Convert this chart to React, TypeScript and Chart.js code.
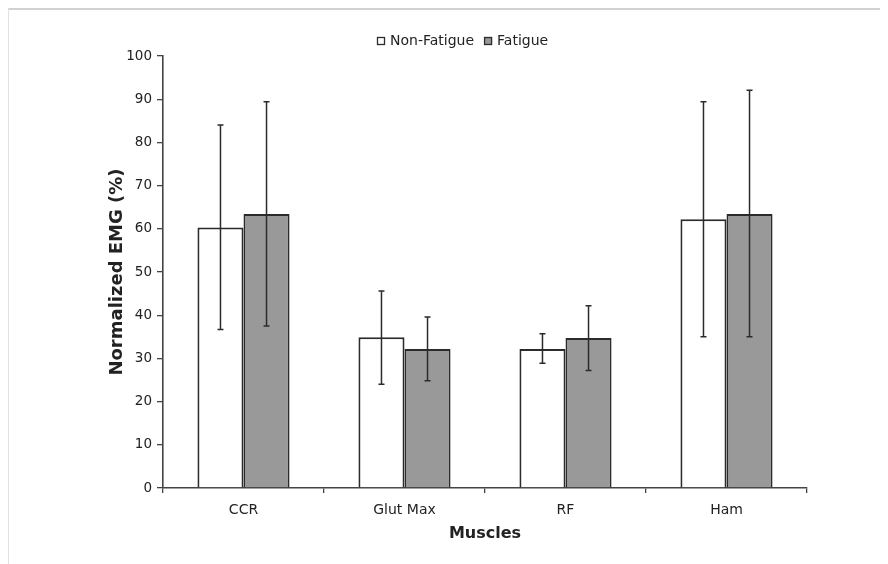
import React, { useEffect, useRef } from "react";
import { Chart, registerables } from "chart.js";

Chart.register(...registerables);

const categories = ["CCR", "Glut Max", "RF", "Ham"];
const seriesNames = ["Non-Fatigue", "Fatigue"];
const nonFatigue = [60.3, 34.9, 32.2, 62.2];
const fatigue = [63.4, 32.2, 34.7, 63.4];
const nonFatigueLow = [36.7, 24.0, 28.9, 35.0];
const nonFatigueHigh = [84.0, 45.6, 35.7, 89.4];
const fatigueLow = [37.5, 24.8, 27.2, 35.0];
const fatigueHigh = [89.4, 39.6, 42.2, 92.1];
const yMin = 0;
const yMax = 100;
const yStep = 10;

const lows = [nonFatigueLow, fatigueLow];
const highs = [nonFatigueHigh, fatigueHigh];

const FONT = '"DejaVu Sans", sans-serif';
const INK = "#2b2b2b";

const errorBarPlugin = {
  id: "errorBars",
  afterDatasetsDraw(chart: any) {
    const ctx = chart.ctx;
    const yScale = chart.scales.y;
    ctx.save();
    ctx.strokeStyle = INK;
    ctx.lineWidth = 1.5;
    chart.data.datasets.forEach((_ds: any, di: number) => {
      const meta = chart.getDatasetMeta(di);
      meta.data.forEach((bar: any, j: number) => {
        const x = bar.x;
        const yl = yScale.getPixelForValue(lows[di][j]);
        const yh = yScale.getPixelForValue(highs[di][j]);
        ctx.beginPath();
        ctx.moveTo(x, yl);
        ctx.lineTo(x, yh);
        ctx.moveTo(x - 3, yl);
        ctx.lineTo(x + 3, yl);
        ctx.moveTo(x - 3, yh);
        ctx.lineTo(x + 3, yh);
        ctx.stroke();
      });
    });
    ctx.restore();
  },
};

const legendPlugin = {
  id: "customLegend",
  afterDraw(chart: any) {
    const ctx = chart.ctx;
    ctx.save();
    ctx.font = `14px ${FONT}`;
    ctx.textBaseline = "middle";
    let x = 368;
    const y = 31;
    chart.data.datasets.forEach((ds: any) => {
      ctx.fillStyle = ds.backgroundColor;
      ctx.fillRect(x, y - 4, 8, 8);
      ctx.strokeStyle = INK;
      ctx.lineWidth = 1.3;
      ctx.strokeRect(x + 0.5, y - 3.5, 7, 7);
      x += 13;
      ctx.fillStyle = "#222";
      ctx.fillText(ds.label, x, y);
      x += ctx.measureText(ds.label).width + 10;
    });
    ctx.restore();
  },
};

export default function App() {
  const ref = useRef<HTMLCanvasElement>(null);
  useEffect(() => {
    if (!ref.current) return;
    const chart = new Chart(ref.current, {
      type: "bar",
      data: {
        labels: categories,
        datasets: [
          {
            label: seriesNames[0],
            data: nonFatigue,
            backgroundColor: "#ffffff",
            borderColor: INK,
            borderWidth: 2,
            categoryPercentage: 0.572,
            barPercentage: 1,
          },
          {
            label: seriesNames[1],
            data: fatigue,
            backgroundColor: "#999999",
            borderColor: INK,
            borderWidth: 2,
            categoryPercentage: 0.572,
            barPercentage: 1,
          },
        ],
      },
      options: {
        animation: false,
        responsive: false,
        layout: { padding: { top: 46, right: 81, left: 0, bottom: 0 } },
        plugins: {
          legend: { display: false },
          tooltip: { enabled: false },
        },
        scales: {
          x: {
            afterFit: (s: any) => {
              s.height = 76;
            },
            grid: {
              display: true,
              offset: true,
              drawOnChartArea: false,
              drawTicks: true,
              tickLength: 5,
              color: "#444",
              lineWidth: 1.3,
            },
            border: { display: true, color: "#444", width: 1.6 },
            ticks: {
              color: "#222",
              font: { family: FONT, size: 14 },
              padding: 9,
            },
            title: {
              display: true,
              text: "Muscles",
              color: "#222",
              font: { family: FONT, size: 16, weight: "bold" },
              padding: { top: 0, bottom: 21 },
            },
          },
          y: {
            min: yMin,
            max: yMax,
            afterFit: (s: any) => {
              s.width = 154;
            },
            ticks: {
              stepSize: yStep,
              color: "#222",
              font: { family: FONT, size: 13.5 },
              padding: 5,
            },
            grid: {
              display: true,
              drawOnChartArea: false,
              drawTicks: true,
              tickLength: 6,
              color: "#444",
              lineWidth: 1.3,
            },
            border: { display: true, color: "#444", width: 1.6 },
            title: {
              display: true,
              text: "Normalized EMG (%)",
              color: "#222",
              font: { family: FONT, size: 18, weight: "bold" },
              padding: { top: 98, bottom: 0 },
            },
          },
        },
      },
      plugins: [errorBarPlugin, legendPlugin],
    });
    return () => chart.destroy();
  }, []);

  return (
    <div
      style={{
        width: 880,
        height: 556,
        boxSizing: "border-box",
        borderTop: "2px solid #d2d2d2",
        borderLeft: "1px solid #e2e2e2",
        background: "#fff",
      }}
    >
      <canvas
        ref={ref}
        width={879}
        height={554}
        style={{ display: "block", width: 879, height: 554 }}
      />
    </div>
  );
}
